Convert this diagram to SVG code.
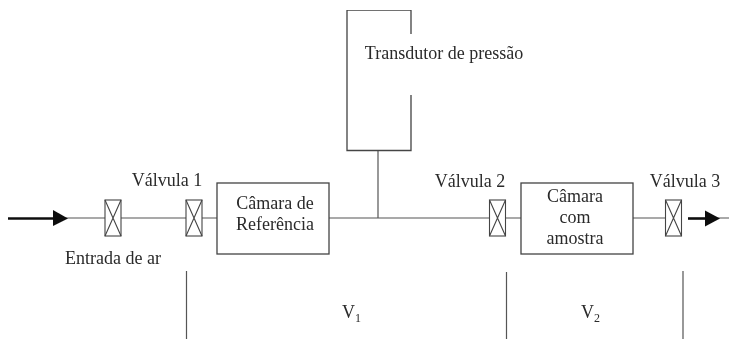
<svg xmlns="http://www.w3.org/2000/svg" width="729" height="339" viewBox="0 0 729 339">
<style>
text{font-family:"Liberation Serif","Times New Roman",serif;font-size:18px;fill:#2a2a2a;text-anchor:middle}
.l{fill:none;stroke:#555;stroke-width:1.2}
.b{fill:#fff;stroke:#444;stroke-width:1.3}
.v{fill:#fff;stroke:#444;stroke-width:1.1}
.a{stroke:#111;stroke-width:2.6;fill:none}
.h{fill:#111;stroke:none}
.s{font-size:12px}
</style>
<defs>
<g id="valve"><rect class="v" x="0" y="0" width="16" height="36"/><path class="v" style="fill:none" d="M0 0L16 36M16 0L0 36"/></g>
<filter id="soft" x="0" y="0" width="100%" height="100%"><feGaussianBlur stdDeviation="0.4"/></filter>
</defs>
<rect width="729" height="339" fill="#fff"/>
<g filter="url(#soft)">
<g id="connectors">
<path class="l" d="M60 218H105M121 218H186M202 218H217M329 218H489M506 218H521M633 218H665M715 218H729M378 150V218"/>
<path class="l" d="M186.500 271V339M506.500 272V339M683 271V339"/>
<path class="a" d="M8 218.500H56"/><path class="h" d="M53 210L68 218.500L53 226Z"/>
<path class="a" d="M688 218.500H708"/><path class="h" d="M705 210.500L720 218.500L705 226.500Z"/>
</g>
<g id="entrada"><use href="#valve" x="105" y="200"/><text x="113" y="264">Entrada de ar</text></g>
<g id="valvula1"><use href="#valve" x="186" y="200"/><text x="167" y="186">Válvula 1</text></g>
<g id="camara-referencia"><rect class="b" x="217" y="183" width="112" height="71"/><text x="275" y="209">Câmara de</text><text x="275" y="230">Referência</text></g>
<g id="transdutor"><path class="l" style="stroke:#444;stroke-width:1.3" d="M411 34V10H347V150.500H411V95"/><text x="444" y="59">Transdutor de pressão</text></g>
<g id="valvula2"><use href="#valve" x="489.500" y="200"/><text x="470" y="187">Válvula 2</text></g>
<g id="camara-amostra"><rect class="b" x="521" y="183" width="112" height="71"/><text x="575" y="202">Câmara</text><text x="575" y="223">com</text><text x="575" y="244">amostra</text></g>
<g id="valvula3"><use href="#valve" x="665.500" y="200"/><text x="685" y="187">Válvula 3</text></g>
<g id="v1"><text x="342" y="318" style="text-anchor:start">V<tspan class="s" dy="4">1</tspan></text></g>
<g id="v2"><text x="581" y="318" style="text-anchor:start">V<tspan class="s" dy="4">2</tspan></text></g>
</g>
</svg>
